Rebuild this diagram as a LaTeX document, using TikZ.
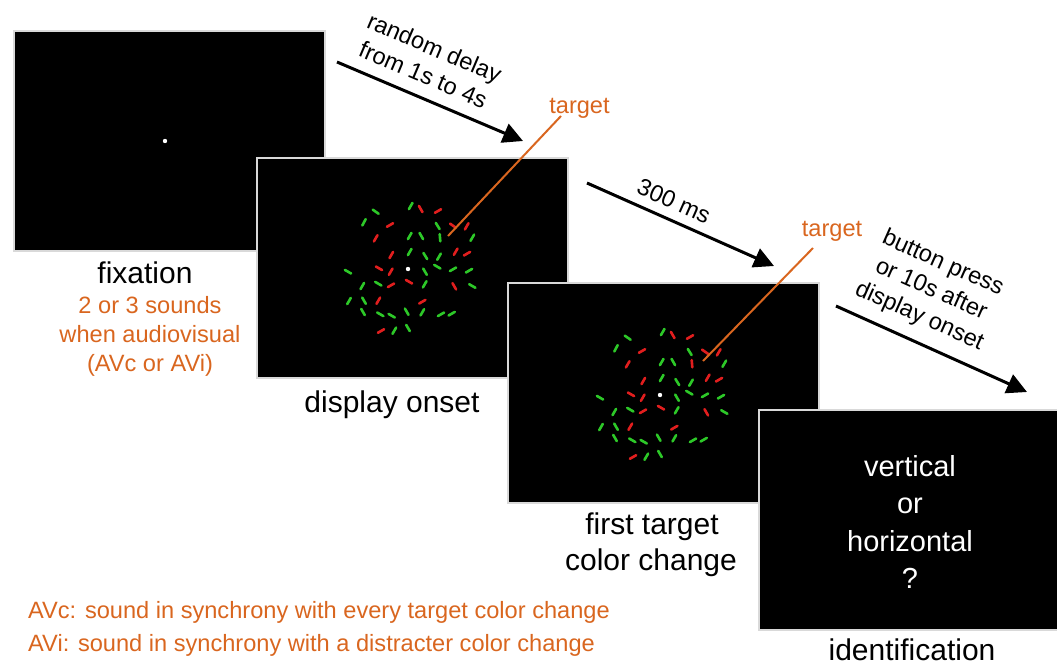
\documentclass[tikz,border=0pt]{standalone}
\usepackage{fontspec}
\setmainfont{Liberation Sans}
\usetikzlibrary{arrows.meta}
\definecolor{orng}{RGB}{217,102,31}
\definecolor{segred}{RGB}{225,30,30}
\definecolor{seggreen}{RGB}{45,200,40}
\begin{document}
\begin{tikzpicture}[x=1pt,y=-1pt,
 panel/.style={fill=black, draw=white!85!black, line width=1.5pt, minimum width=311pt, minimum height=220pt, anchor=north west, inner sep=0},
 lab/.style={font=\fontsize{30}{36}\selectfont, anchor=base, inner sep=0},
 olab/.style={font=\fontsize{23.6}{30}\selectfont, text=orng, anchor=base, inner sep=0},
 wlab/.style={font=\fontsize{29}{37}\selectfont, text=white, anchor=base, inner sep=0},
 alab/.style={font=\fontsize{23.6}{29}\selectfont, align=center, inner sep=0},
 timearrow/.style={line width=3pt, -{Triangle[length=20pt,width=20pt]}},
 tline/.style={draw=orng, line width=2pt},
 seg/.style={line width=2.6pt, line cap=round},
]
\useasboundingbox (0,0) rectangle (1057,665);

% panels
\node[panel] (p1) at (13,30) {};
\fill[white] (165,141) circle (2.2pt);
\node[panel] (p2) at (256,157) {};
\node[panel] (p3) at (507,282) {};
\node[panel, minimum width=300pt] (p4) at (758,409) {};

% segment displays
\foreach \px/\py/\tc in {408/269/seggreen, 660/395/segred}{
 \begin{scope}[shift={(\px,\py)}]
 \foreach \dx/\dy/\a/\c in {
  -32.3/-57.3/-35/seggreen, 2.7/-63/60/seggreen, 12.7/-60/-60/segred, 30/-58/30/segred,
  -44/-46.7/62/seggreen, -18/-44/30/segred, 29.7/-43/-58/seggreen, 45/-43.3/-35/segred,
  58.7/-42.7/60/segred, -32.3/-30.7/60/segred, 1.7/-33/60/seggreen, 13.3/-33/-60/seggreen,
  32/-31.3/-85/\tc, 64.3/-31.3/60/seggreen, -16.7/-14/60/segred, 1.7/-17/60/seggreen,
  17.3/-13/-58/seggreen, 31/-12.3/60/seggreen, 47.7/-17.3/60/segred, 59/-15.3/30/segred,
  -60/2.7/-30/seggreen, -29/-0.7/-30/segred, -17.3/2.7/60/segred, 17/2.7/-60/seggreen,
  29.3/-2.3/-30/seggreen, 45/0.3/30/seggreen, 61/1.7/30/seggreen, -45.7/17/60/seggreen,
  -29.7/14.7/-30/seggreen, -17/16.3/30/segred, 1/12.7/-30/segred, 16.7/15.3/60/seggreen,
  46.3/17.3/-60/segred, 64.3/17/-30/seggreen, -59/32/60/seggreen, -44/31.7/-60/seggreen,
  -29.7/31.7/60/segred, 14.3/32.7/30/segred, -45/43/-60/seggreen, -27.7/45.3/-30/seggreen,
  -16.3/46.7/-30/seggreen, -1.3/42.7/-60/seggreen, 14.3/43.3/60/seggreen, 33/45.3/30/seggreen,
  43.7/44.7/30/seggreen, -27/62/30/segred, -13.7/61.7/60/seggreen, 0/59/-60/seggreen}
  {\draw[seg, draw=\c] (\dx,\dy) ++(\a:3.6pt) -- ++(\a+180:7.2pt);}
 \fill[white] (0,0) circle (2.2pt);
 \end{scope}
}

% target pointers
\node[olab] (tl2) at (579.5,113) {target};
\coordinate (t2s) at (448,236);
\coordinate (t2e) at (561,116);
\draw[tline] (t2s) -- (t2e);
\node[olab] (tl3) at (832,236) {target};
\coordinate (t3s) at (703,361);
\coordinate (t3e) at (813,248);
\draw[tline] (t3s) -- (t3e);

% time arrows
\coordinate (a1s) at (337,62);
\coordinate (a1e) at (523,141);
\draw[timearrow] (a1s) -- (a1e);
\node[alab, rotate=-23] (al1) at (429,61) {random delay\\from 1s to 4s};
\coordinate (a2s) at (587,183);
\coordinate (a2e) at (774,266);
\draw[timearrow] (a2s) -- (a2e);
\node[alab, rotate=-24] (al2) at (674,201) {300 ms};
\coordinate (a3s) at (836,306);
\coordinate (a3e) at (1027,392);
\draw[timearrow] (a3s) -- (a3e);
\node[alab, rotate=-24] (al3) at (931,290) {button press\\or 10s after\\display onset};

% labels
\node[lab] (fix) at (145,283) {fixation};
\node[olab] (snd1) at (150,313) {2 or 3 sounds};
\node[olab] (snd2) at (150,342) {when audiovisual};
\node[olab] (snd3) at (150,371) {(AVc or AVi)};
\node[lab] (don) at (392,412) {display onset};
\node[lab] (ftc1) at (652,534) {first target};
\node[lab] (ftc2) at (651,570) {color change};
\node[lab] (idf) at (912,660) {identification};
\node[wlab] (q1) at (910,476) {vertical};
\node[wlab] (q2) at (910,513) {or};
\node[wlab] (q3) at (910,551) {horizontal};
\node[wlab] (q4) at (910,588) {?};
\node[olab, anchor=base west] (avc) at (28,618) {AVc: sound in synchrony with every target color change};
\node[olab, anchor=base west] (avi) at (28,651) {AVi: sound in synchrony with a distracter color change};
\end{tikzpicture}
\end{document}
